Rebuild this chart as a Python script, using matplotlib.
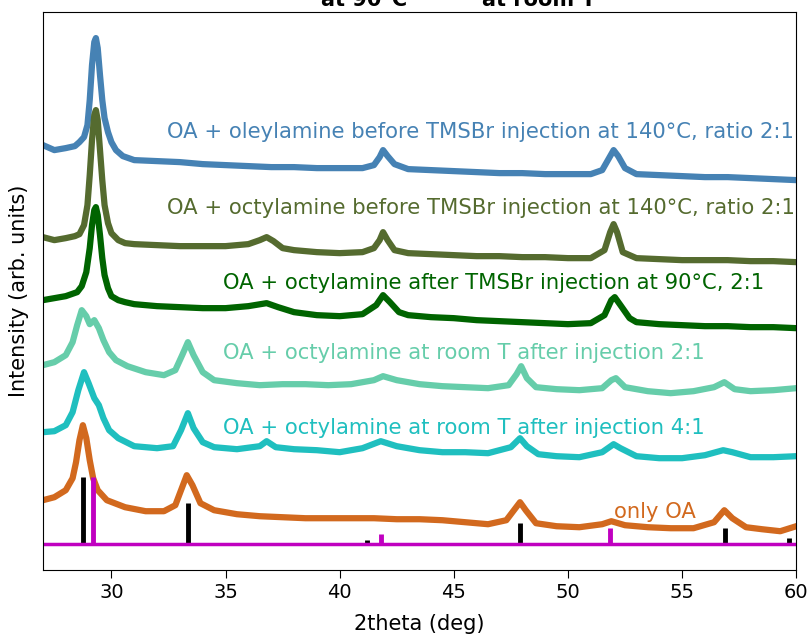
import numpy as np
import matplotlib
matplotlib.use('Agg')
import matplotlib.pyplot as plt

# XRD patterns (2theta in deg, intensity in arb. units, already stacked)
x_oley = [27.0, 27.5, 28.0, 28.4, 28.6, 28.8, 28.95, 29.05, 29.15, 29.25, 29.32, 29.4, 29.5, 29.6, 29.7, 29.85, 30.0,
          30.2, 30.5, 31, 32, 33, 34, 35, 36, 37, 38, 39, 40, 41, 41.5, 41.75, 41.9, 42.1, 42.4, 43, 44, 45, 46, 47,
          48, 49, 50, 51, 51.5, 51.8, 52.0, 52.2, 52.5, 53, 54, 55, 56, 57, 58, 59, 60]
y_oley = [425, 420, 422, 424, 428, 433, 445, 470, 505, 528, 532, 522, 495, 470, 452, 438, 428,
          420, 414, 410, 409, 408, 406, 405, 404, 403, 403, 402, 402, 402, 405, 413, 420, 414, 406, 401, 400, 399, 398, 397,
          397, 396, 396, 396, 400, 412, 420, 414, 402, 396, 395, 394, 393, 393, 392, 391, 390]

x_oct_before = [27, 27.5, 28, 28.4, 28.6, 28.8, 28.95, 29.05, 29.15, 29.25, 29.32, 29.4, 29.5, 29.6, 29.7, 29.85, 30.0,
                30.3, 30.6, 31, 32, 33, 34, 35, 36, 36.5, 36.8, 37.1, 37.5, 38, 39, 40, 41, 41.5, 41.75, 41.9, 42.1,
                42.4, 43, 44, 45, 46, 47, 48, 49, 50, 51, 51.6, 51.85, 52.0, 52.15, 52.4, 53, 54, 55, 56, 57, 58, 59,
                60]
y_oct_before = [333, 330, 332, 334, 336, 345, 365, 395, 430, 455, 460, 450, 420, 390, 365, 347, 337,
                330, 327, 326, 325, 324, 324, 324, 326, 330, 333, 329, 322, 320, 318, 317, 318, 322, 330, 338, 330,
                320, 317, 316, 315, 314, 314, 313, 313, 312, 312, 320, 338, 346, 338, 318, 312, 311, 310, 310, 310, 309, 309,
                308]

x_oct_after = [27, 27.5, 28, 28.5, 28.7, 28.9, 29.05, 29.15, 29.25, 29.32, 29.4, 29.5, 29.6, 29.7, 29.85, 30.0, 30.3,
               30.6, 31, 32, 33, 34, 35, 36, 36.8, 37.3, 38, 39, 40, 41, 41.6, 41.9, 42.2, 42.6, 43, 44, 45, 46, 47,
               48, 49, 50, 51, 51.6, 51.9, 52.05, 52.3, 52.7, 53, 54, 55, 56, 57, 58, 59, 60]
y_oct_after = [270, 272, 274, 278, 284, 298, 322, 345, 360, 363, 355, 335, 312, 295, 282, 274, 270,
               268, 266, 264, 263, 262, 262, 264, 267, 263, 258, 255, 254, 256, 265, 275, 268, 258, 255, 253, 252, 250, 249,
               248, 247, 246, 247, 255, 270, 273, 265, 252, 248, 246, 245, 244, 244, 243, 243, 242]

x_rt21 = [27, 27.5, 28.0, 28.3, 28.5, 28.7, 28.9, 29.05, 29.25, 29.45, 29.65, 29.9, 30.2, 30.7, 31.5, 32.3, 32.8, 33.1,
          33.35, 33.6, 34.0, 34.5, 35.5, 36.5, 37.5, 38.5, 39.5, 40.5, 41.5, 41.9, 42.5, 43.5, 44.5, 45.5, 46.5,
          47.4, 47.75, 47.95, 48.2, 48.6, 49.5, 50.5, 51.5, 51.9, 52.1, 52.5, 53.5, 54.5, 55.5, 56.4, 56.85, 57.3,
          58, 59, 60]
y_rt21 = [205, 208, 215, 228, 245, 260, 254, 246, 250, 242, 230, 218, 210, 204, 198, 195, 200, 215,
          228, 215, 198, 190, 187, 185, 186, 186, 185, 186, 190, 194, 190, 186, 184, 183, 182,
          185, 196, 204, 192, 183, 181, 180, 182, 190, 192, 183, 179, 177, 179, 183, 188, 181,
          179, 180, 182]

x_rt41 = [27, 27.5, 28.0, 28.3, 28.55, 28.8, 29.0, 29.25, 29.45, 29.65, 29.9, 30.3, 31, 32, 32.7, 33.05, 33.35, 33.6,
          34.0, 34.5, 35.5, 36.5, 36.8, 37.2, 38, 39, 40, 41, 41.8, 42.5, 43.5, 44.5, 45.5, 46.5, 47.5, 47.9, 48.2,
          48.7, 49.5, 50.5, 51.5, 52.0, 52.3, 53, 54, 55, 56, 56.8, 57.2, 58, 59, 60]
y_rt41 = [138, 139, 145, 158, 180, 198, 187, 172, 165, 152, 140, 132, 124, 122, 124, 140, 157, 142,
          128, 123, 121, 124, 129, 123, 121, 120, 118, 122, 129, 124, 120, 118, 118, 117, 123, 132, 124,
          116, 114, 113, 118, 126, 122, 114, 112, 112, 115, 120, 118, 113, 113, 114]

x_oa = [27, 27.5, 28.0, 28.3, 28.45, 28.6, 28.75, 28.9, 29.05, 29.2, 29.4, 29.8, 30.6, 31.5, 32.3, 32.8, 33.1, 33.3,
        33.55, 33.9, 34.5, 35.5, 36.5, 37.5, 38.5, 39.5, 40.5, 41.5, 42.5, 43.5, 44.5, 45.5, 46.5, 47.3, 47.7,
        47.9, 48.15, 48.6, 49.5, 50.5, 51.5, 51.9, 52.5, 53.5, 54.5, 55.5, 56.4, 56.85, 57.2, 57.8, 58.5, 59.3, 60]
y_oa = [70, 73, 80, 92, 108, 130, 145, 132, 110, 92, 80, 70, 63, 59, 59, 65, 83, 95,
        85, 67, 60, 56, 54, 53, 52, 52, 52, 52, 51, 51, 50, 48, 46, 50, 62,
        68, 60, 47, 44, 43, 46, 49, 45, 43, 42, 42, 48, 60, 52, 43, 41, 39, 44]

# reference stick patterns
ref_base = 26
ref1_pos = [28.74, 33.35, 41.18, 47.91, 56.87, 59.69]
ref1_int = [93, 67, 30, 47, 42, 32]
ref2_pos = [29.18, 41.80, 51.86]
ref2_int = [93, 36, 42]

fig = plt.figure(figsize=(8.1, 6.35), dpi=100)
ax = fig.add_axes([0.053, 0.102, 0.930, 0.879])

lw = 4.5
ax.plot(x_oley, y_oley, color='#4682b4', lw=lw)
ax.plot(x_oct_before, y_oct_before, color='#556b2f', lw=lw)
ax.plot(x_oct_after, y_oct_after, color='#006400', lw=lw)
ax.plot(x_rt21, y_rt21, color='#66cdaa', lw=lw)
ax.plot(x_rt41, y_rt41, color='#1fbfbf', lw=lw)
ax.plot(x_oa, y_oa, color='#d2691e', lw=lw)

ax.vlines(ref1_pos, ref_base, ref1_int, color='k', lw=3.5)
ax.vlines(ref2_pos, ref_base, ref2_int, color='#c000c0', lw=3.5)
ax.axhline(ref_base, color='#c000c0', lw=2.5)

fs = 15.2
ax.text(32.45, 438, 'OA + oleylamine before TMSBr injection at 140°C, ratio 2:1', color='#4682b4', fontsize=fs, va='center')
ax.text(32.45, 362, 'OA + octylamine before TMSBr injection at 140°C, ratio 2:1', color='#556b2f', fontsize=fs, va='center')
ax.text(34.9, 287, 'OA + octylamine after TMSBr injection at 90°C, 2:1', color='#006400', fontsize=fs, va='center')
ax.text(34.9, 217, 'OA + octylamine at room T after injection 2:1', color='#66cdaa', fontsize=fs, va='center')
ax.text(34.9, 142, 'OA + octylamine at room T after injection 4:1', color='#1fbfbf', fontsize=fs, va='center')
ax.text(52.0, 58, 'only OA', color='#d2691e', fontsize=fs, va='center')

ax.set_xlim(27, 60)
ax.set_ylim(0, 558)
ax.set_yticks([])
ax.set_xticks([30, 35, 40, 45, 50, 55, 60])
ax.tick_params(axis='x', labelsize=14, length=6)
ax.set_xlabel('2theta (deg)', fontsize=15, labelpad=8)
ax.set_ylabel('Intensity (arb. units)', fontsize=15, labelpad=10)

# title, cut off by the top edge of the image
fig.text(0.450, 0.990, 'at 90°C', fontsize=15, fontweight='bold', ha='center', va='baseline')
fig.text(0.665, 0.990, 'at room T', fontsize=15, fontweight='bold', ha='center', va='baseline')

fig.savefig('out.png', dpi=100)
